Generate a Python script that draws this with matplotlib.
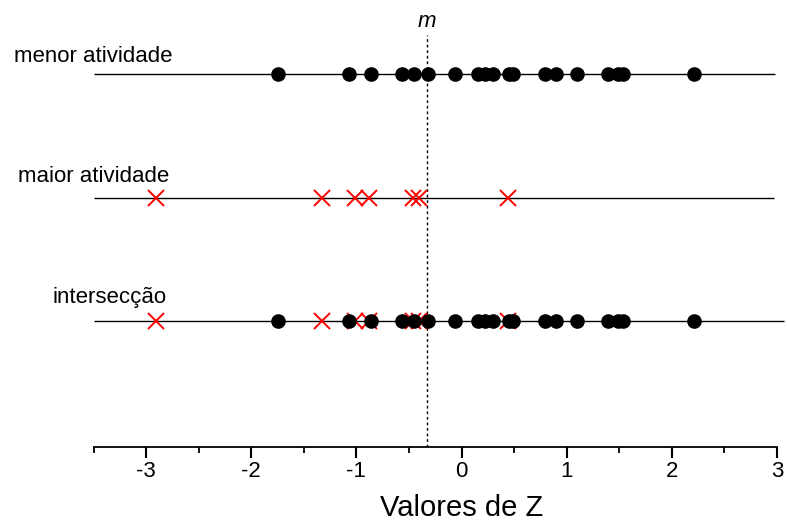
import numpy as np
import matplotlib
matplotlib.use("Agg")
import matplotlib.pyplot as plt

plt.rcParams['font.family'] = ['Liberation Sans', 'DejaVu Sans']

# Z values for each group
menor_atividade = [-1.75, -1.07, -0.86, -0.57, -0.45, -0.32, -0.06, 0.16, 0.22, 0.30,
                   0.45, 0.49, 0.79, 0.90, 1.10, 1.39, 1.49, 1.54, 2.21]
maior_atividade = [-2.91, -1.33, -1.01, -0.88, -0.46, -0.40, 0.44]
m_value = -0.33

row_labels = ['menor atividade', 'maior atividade', 'intersecção']
row_y = [3, 2, 1]
row_line_end = [2.98, 2.97, 3.07]

W, H = 787, 526
fig = plt.figure(figsize=(W / 100, H / 100), dpi=100)
ax = fig.add_axes([93.5 / W, 79 / H, (777 - 93.5) / W, (447 - 35) / H])

ax.set_xlim(-3.5, 3.0)
ax.set_ylim(-0.02, 3.316)

# horizontal guide lines for each group
for y, xe in zip(row_y, row_line_end):
    ax.hlines(y, -3.5, xe, color='black', lw=1.0, clip_on=False, zorder=1)

dot_kw = dict(marker='o', ms=9.5, color='black', ls='none', zorder=4)
x_kw = dict(marker='x', ms=11, mew=1.4, color='red', ls='none', zorder=3)

ax.plot(menor_atividade, [row_y[0]] * len(menor_atividade), **dot_kw)
ax.plot(maior_atividade, [row_y[1]] * len(maior_atividade), **x_kw)
# intersection row: both groups together
ax.plot(maior_atividade, [row_y[2]] * len(maior_atividade), **x_kw)
ax.plot(menor_atividade, [row_y[2]] * len(menor_atividade), **dot_kw)

ax.axvline(m_value, color='black', lw=1.0, ls=(0, (2, 2)), zorder=2)
fig.text((93.5 + (m_value + 3.5) * 105.2) / W, 1 - 27 / H, 'm', style='italic',
         fontsize=16, ha='center', va='baseline')

for s in ['left', 'top', 'right']:
    ax.spines[s].set_visible(False)
ax.spines['bottom'].set_linewidth(1.3)
ax.set_yticks([])
ax.set_xticks(np.arange(-3, 3.5, 1))
ax.set_xticks(np.arange(-3.5, 3.5, 1), minor=True)
ax.set_xticklabels(['-3', '-2', '-1', '0', '1', '2', '3'])
ax.tick_params(axis='x', which='major', direction='out', length=8, width=1.5,
               labelsize=16, pad=2)
ax.tick_params(axis='x', which='minor', direction='out', length=4.5, width=1.3)

# group labels at the left
label_pos = [(14, 61.5), (17.5, 181.5), (53, 303)]
for txt, (px, py) in zip(row_labels, label_pos):
    fig.text(px / W, 1 - py / H, txt, fontsize=16, ha='left', va='baseline')

fig.text(462 / W, 1 - 516 / H, 'Valores de Z', fontsize=21, ha='center', va='baseline')

fig.savefig('out.png', dpi=100)
